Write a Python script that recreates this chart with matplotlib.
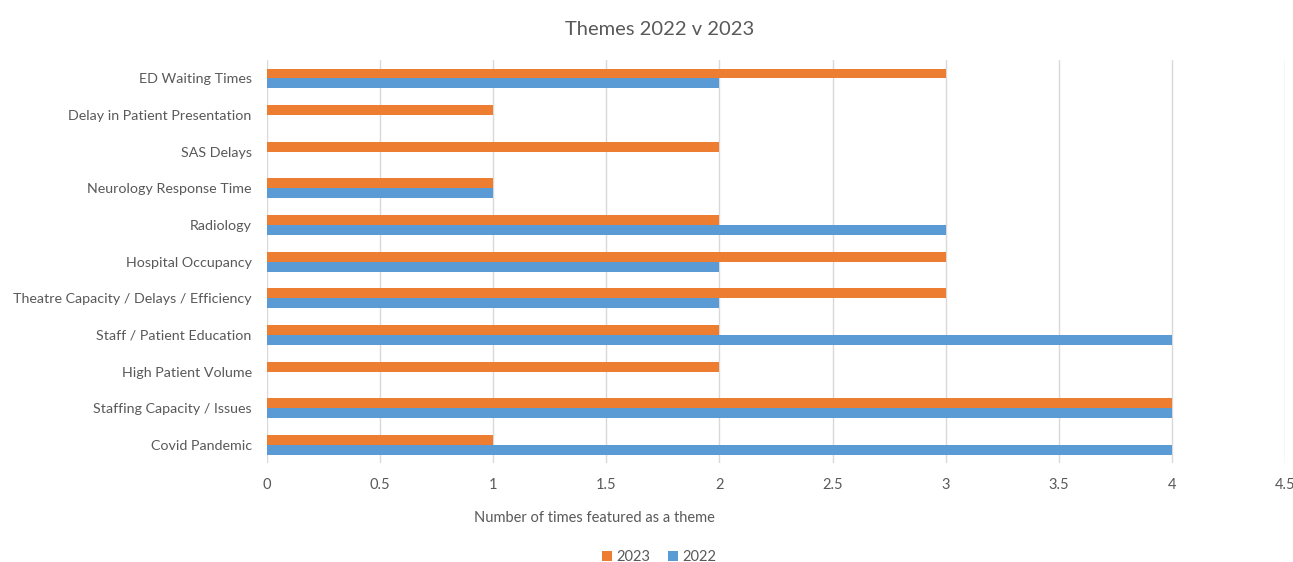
import matplotlib.pyplot as plt
import numpy as np

plt.rcParams['font.family'] = ['Lato', 'DejaVu Sans']

# Данные
themes = ['ED Waiting Times', 'Delay in Patient Presentation', 'SAS Delays',
          'Neurology Response Time', 'Radiology', 'Hospital Occupancy',
          'Theatre Capacity / Delays / Efficiency', 'Staff / Patient Education',
          'High Patient Volume', 'Staffing Capacity / Issues', 'Covid Pandemic']
counts_2023 = [3, 1, 2, 1, 2, 3, 3, 2, 2, 4, 1]
counts_2022 = [2, 0, 0, 1, 3, 2, 2, 4, 0, 4, 4]
xticks = [0, 0.5, 1, 1.5, 2, 2.5, 3, 3.5, 4, 4.5]

text_col = '#595959'
fig = plt.figure(figsize=(12.93, 5.62), dpi=100)
ax = fig.add_axes([0.2065, 0.176, 0.7873, 0.717])

y = np.arange(len(themes))
h = 0.27
ax.barh(y - h / 2, counts_2023, height=h, color='#ED7D31', label='2023', zorder=3)
ax.barh(y + h / 2, counts_2022, height=h, color='#5B9BD5', label='2022', zorder=3)

ax.set_ylim(len(themes) - 0.5, -0.5)
ax.set_xlim(0, 4.5)
ax.set_xticks(xticks)
ax.set_xticklabels([f'{t:g}' for t in xticks])
ax.set_yticks(y)
ax.set_yticklabels(themes)
ax.grid(axis='x', color='#D9D9D9', linewidth=1, zorder=0)
for s in ax.spines.values():
    s.set_visible(False)
ax.tick_params(axis='both', length=0, colors=text_col, labelsize=10.5)
ax.tick_params(axis='y', pad=11, labelsize=10.3)
ax.tick_params(axis='x', pad=11)

# Подпись оси X
ax.set_xlabel('Number of times featured as a theme', color=text_col, fontsize=10.5)
ax.xaxis.set_label_coords(0.203, -0.12)
ax.xaxis.label.set_horizontalalignment('left')

fig.text(0.51, 0.948, 'Themes 2022 v 2023', ha='center', va='center', color=text_col, fontsize=14.5)

fig.legend(loc='center', bbox_to_anchor=(0.51, 0.009), ncol=2, frameon=False,
           fontsize=10.5, labelcolor=text_col, handlelength=0.7, handleheight=0.7,
           handletextpad=0.3, columnspacing=1.2)

fig.savefig('out.png', dpi=100)
